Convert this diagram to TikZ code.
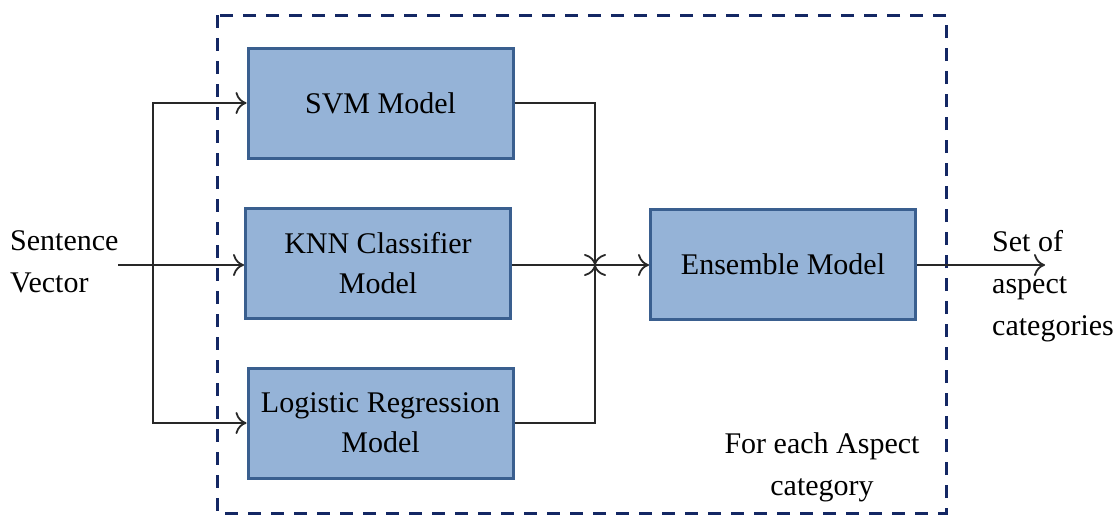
\documentclass[tikz,border=0pt]{standalone}
\usepackage{fontspec}
\setmainfont{Liberation Serif}
\usetikzlibrary{arrows.meta}
\definecolor{boxfill}{RGB}{149,179,215}
\definecolor{boxedge}{RGB}{58,95,143}
\definecolor{navy}{RGB}{20,40,100}
\definecolor{wire}{RGB}{40,40,40}
\tikzset{
  model/.style={draw=boxedge, fill=boxfill, line width=3pt, minimum width=265pt,
    minimum height=110pt, align=center, font=\fontsize{30}{40}\selectfont, inner sep=0pt},
  label/.style={align=left, font=\fontsize{30}{42}\selectfont, inner sep=0pt},
  wireline/.style={draw=wire, line width=1.8pt},
  flow/.style={wireline, -{To[length=11pt,width=22pt,line width=1.8pt]}},
}
\begin{document}
\begin{tikzpicture}[x=1pt, y=-1pt]
\useasboundingbox (0,0) rectangle (1119,517);
% enclosing per-category frame
\draw[navy, line width=3pt, dash pattern=on 13pt off 10pt] (217,15) rectangle (946,513);
% classifiers
\node[model] (svm) at (380.5,103) {SVM Model};
\node[model] (knn) at (378,263) {KNN Classifier\\Model};
\node[model] (lr) at (380.5,423) {Logistic Regression\\Model};
\node[model] (ens) at (783,264.5) {Ensemble Model};
% inputs and outputs
\node[label, anchor=west] (sv) at (10,262) {Sentence\\Vector};
\node[label, anchor=west] (out) at (992,286) {Set of\\aspect\\categories};
\node[font=\fontsize{30}{42}\selectfont, align=center] (note) at (822,467) {For each Aspect\\category};
\coordinate (split) at (153,265);
\coordinate (merge) at (595,265);
\coordinate (outend) at (1045,265);
% fan-out
\draw[wireline] (118,265) -- (split);
\draw[flow] (split) -- (knn.west |- split);
\draw[flow] (split) |- (svm.west);
\draw[flow] (split) |- (lr.west);
% fan-in
\draw[flow] (svm.east) -| (merge);
\draw[flow] (lr.east) -| (merge);
\draw[wireline] (knn.east |- merge) -- (merge);
\draw[flow] (merge) -- (ens.west |- merge);
\draw[flow] (ens.east |- outend) -- (outend);
\end{tikzpicture}
\end{document}
